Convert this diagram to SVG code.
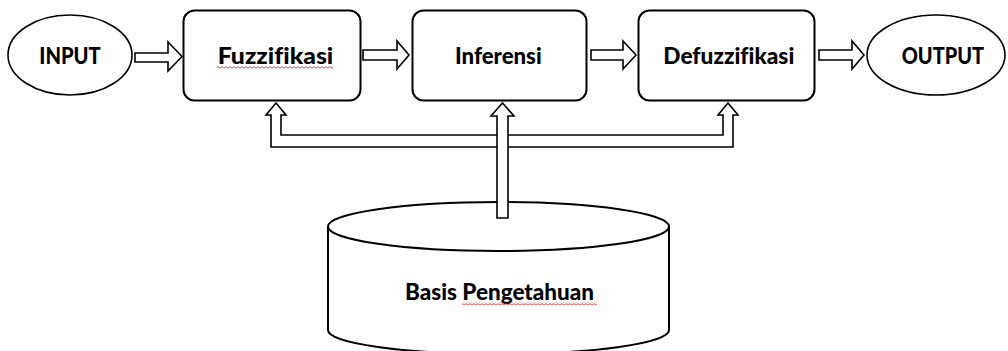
<svg xmlns="http://www.w3.org/2000/svg" width="1008" height="351" viewBox="0 0 1008 351">
<style>
  .box{fill:#fff;stroke:#000;stroke-width:2}
  .ell{fill:#fff;stroke:#000;stroke-width:1.6}
  .arr{fill:#fff;stroke:#000;stroke-width:1.6;stroke-linejoin:miter}
  .lbl{font-family:Lato,"Liberation Sans",sans-serif;font-weight:900;font-size:22px;fill:#000;font-variant-ligatures:none;font-feature-settings:"liga" 0}
</style>
<defs>
  <pattern id="wave" width="4" height="3" patternUnits="userSpaceOnUse">
    <path d="M0,2.2 L2,0.6 L4,2.2" fill="none" stroke="#e03030" stroke-width="0.9"/>
  </pattern>
</defs>
<rect width="1008" height="351" fill="#fff"/>

<g id="input">
  <ellipse class="ell" cx="70" cy="55" rx="62" ry="40"/>
  <text class="lbl" x="39.3" y="63.5" textLength="61.4" lengthAdjust="spacingAndGlyphs">INPUT</text>
</g>
<g id="fuzzifikasi">
  <rect class="box" x="183.5" y="10.5" width="177" height="90" rx="11"/>
  <text class="lbl" x="217.7" y="63.5" textLength="115.6" lengthAdjust="spacingAndGlyphs">Fuzzifikasi</text>
  <rect x="217" y="66" width="116" height="3" fill="url(#wave)"/>
</g>
<g id="inferensi">
  <rect class="box" x="412.5" y="10.5" width="174" height="90" rx="11"/>
  <text class="lbl" x="455" y="63.5" textLength="86.7" lengthAdjust="spacingAndGlyphs">Inferensi</text>
</g>
<g id="defuzzifikasi">
  <rect class="box" x="638.5" y="10.5" width="176" height="90" rx="11"/>
  <text class="lbl" x="663.3" y="63.5" textLength="131" lengthAdjust="spacingAndGlyphs">Defuzzifikasi</text>
</g>
<g id="output">
  <ellipse class="ell" cx="936" cy="55" rx="69" ry="40"/>
  <text class="lbl" x="901.7" y="63.5" textLength="82.3" lengthAdjust="spacingAndGlyphs">OUTPUT</text>
</g>
<g id="basis">
  <path class="box" d="M328,226 V330 A170.5,24 0 0 0 669,330 V226"/>
  <ellipse class="box" cx="498.5" cy="226.5" rx="170.5" ry="24.5"/>
  <text class="lbl" x="405" y="299.5" textLength="189" lengthAdjust="spacingAndGlyphs">Basis Pengetahuan</text>
  <rect x="462" y="302" width="135" height="3" fill="url(#wave)"/>
</g>

<g id="connectors">
  <path class="arr" d="M135,53 H168 V42 L182,56.5 L168,71 V62 H135 Z"/>
  <path class="arr" d="M363,50 H397 V41 L409,55 L397,69 V60 H363 Z"/>
  <path class="arr" d="M591,50 H623 V41 L636,55 L623,69 V60 H591 Z"/>
  <path class="arr" d="M819,50 H852 V41 L864,55 L852,69 V60 H819 Z"/>
  <path class="arr" d="M271,147 V115 H266 L276,103 L286,115 H281 V135 H723 V115 H718 L728,103 L738,115 H733 V147 Z"/>
  <path class="arr" d="M497,218 V116 H491 L502.5,103 L514,116 H508 V218 Z"/>
</g>
</svg>
